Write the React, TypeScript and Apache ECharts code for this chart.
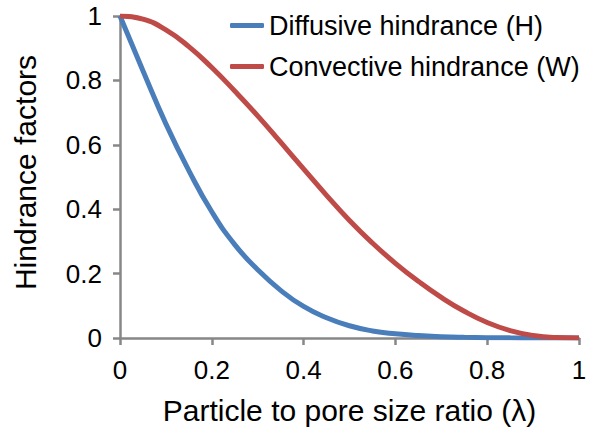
import React, { useEffect, useRef } from "react";
import * as echarts from "echarts";

const lambdaValues = [0, 0.05, 0.1, 0.15, 0.2, 0.25, 0.3, 0.35, 0.4, 0.45, 0.5, 0.55, 0.6, 0.65, 0.7, 0.75, 0.8, 0.85, 0.9, 0.95, 1.0];
const diffusiveH = [1, 0.83, 0.665, 0.52, 0.392, 0.29, 0.212, 0.148, 0.098, 0.063, 0.038, 0.022, 0.013, 0.0075, 0.0042, 0.0022, 0.001, 0.0004, 0.00015, 0.00004, 0];
const convectiveW = [1, 0.99, 0.957, 0.905, 0.84, 0.767, 0.69, 0.608, 0.525, 0.443, 0.365, 0.295, 0.232, 0.176, 0.126, 0.083, 0.048, 0.023, 0.008, 0.0015, 0];
const seriesNames = ["Diffusive hindrance (H)", "Convective hindrance (W)"];
const xTitle = "Particle to pore size ratio (λ)";
const yTitle = "Hindrance factors";

const FONT = "'Liberation Sans', Arial, sans-serif";
const AXIS_GREY = "#878787";

export default function App() {
  const ref = useRef<HTMLDivElement>(null);
  useEffect(() => {
    if (!ref.current) return;
    const chart = echarts.init(ref.current, undefined, { renderer: "svg" });
    const axisCommon = {
      type: "value" as const,
      min: 0,
      max: 1,
      interval: 0.2,
      splitLine: { show: false },
      axisLine: { show: true, onZero: false, lineStyle: { color: AXIS_GREY, width: 2.5 } },
      axisTick: { show: true, length: 7, lineStyle: { color: AXIS_GREY, width: 2.5 } },
      axisLabel: {
        color: "#000",
        fontSize: 26,
        fontFamily: FONT,
        formatter: (v: number) => String(Math.round(v * 10) / 10),
      },
      nameLocation: "middle" as const,
      nameTextStyle: { color: "#000", fontSize: 30, fontFamily: FONT },
    };
    chart.setOption({
      animation: false,
      backgroundColor: "#fff",
      grid: { left: 120, right: 13, top: 16, bottom: 97, containLabel: false },
      legend: {
        orient: "vertical",
        left: 230,
        top: 12,
        padding: 0,
        itemWidth: 34,
        itemHeight: 5,
        itemGap: 14,
        icon: "roundRect",
        textStyle: { color: "#000", fontSize: 27, fontFamily: FONT },
        data: seriesNames,
      },
      xAxis: {
        ...axisCommon,
        name: xTitle,
        nameGap: 57,
        axisLabel: { ...axisCommon.axisLabel, margin: 19 },
      },
      yAxis: {
        ...axisCommon,
        name: yTitle,
        nameGap: 80,
        nameTextStyle: { ...axisCommon.nameTextStyle, padding: [0, 0, 0, 9] },
        axisLabel: { ...axisCommon.axisLabel, margin: 18 },
      },
      series: [
        {
          name: seriesNames[0],
          type: "line",
          smooth: true,
          showSymbol: false,
          symbol: "none",
          lineStyle: { color: "#4a7ebb", width: 5 },
          itemStyle: { color: "#4a7ebb" },
          data: lambdaValues.map((x, i) => [x, diffusiveH[i]]),
        },
        {
          name: seriesNames[1],
          type: "line",
          smooth: true,
          showSymbol: false,
          symbol: "none",
          lineStyle: { color: "#be4b48", width: 5 },
          itemStyle: { color: "#be4b48" },
          data: lambdaValues.map((x, i) => [x, convectiveW[i]]),
        },
      ],
    });
    return () => chart.dispose();
  }, []);
  return <div ref={ref} style={{ width: 592, height: 435, position: "absolute", left: 0, top: 0 }} />;
}
